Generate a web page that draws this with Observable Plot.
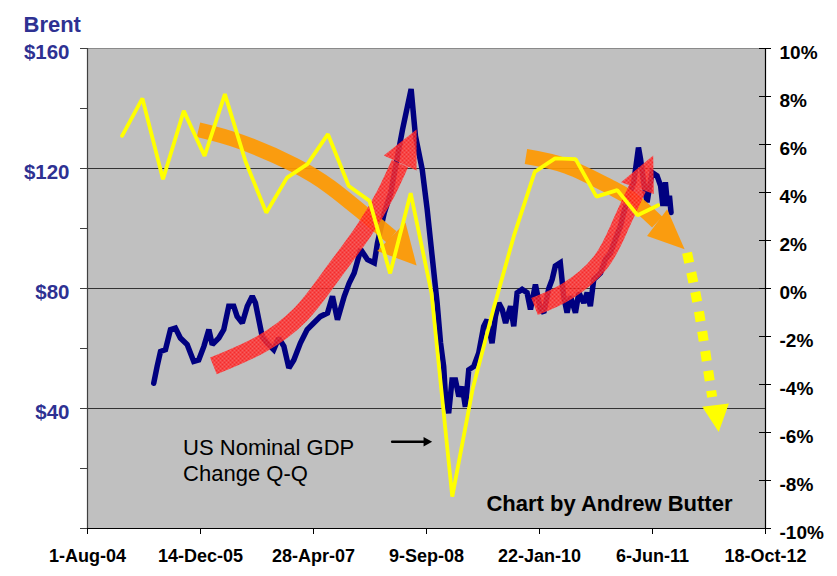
<!DOCTYPE html>
<html>
<head>
<meta charset="utf-8">
<script src="https://cdn.jsdelivr.net/npm/d3@7"></script>
<script src="https://cdn.jsdelivr.net/npm/@observablehq/plot@0.6"></script>
<style>
  body { margin: 0; background: #ffffff; }
  #chart svg { display: block; }
</style>
</head>
<body>
<div id="chart"></div>
<script>
// ---------- data ----------
// Brent crude, $ per barrel [date, price]
const brentSeries = [
  ["2005-05-21",48.4],["2005-06-05",54],["2005-06-20",59],["2005-07-12",59.6],["2005-08-03",66.3],["2005-08-25",66.8],
  ["2005-09-16",63.5],["2005-10-16",61.3],["2005-11-14",55.7],["2005-12-06",56.2],["2005-12-29",60.7],["2006-01-20",66.3],
  ["2006-02-04",61.3],["2006-03-05",63.5],["2006-03-27",66.3],["2006-04-18",74.1],["2006-05-10",74.1],["2006-05-25",70.7],
  ["2006-06-17",68.5],["2006-07-09",74.1],["2006-07-31",77.4],["2006-08-14",75.2],["2006-08-29",69.6],["2006-09-13",64.0],
  ["2006-10-05",61.8],["2006-11-03",59.6],["2006-11-25",63.5],["2006-12-18",60.7],["2007-01-09",53.5],["2007-01-31",56.2],
  ["2007-03-01",61.8],["2007-03-31",66.3],["2007-04-29",68.5],["2007-05-29",70.7],["2007-06-29",71.8],["2007-07-21",77.4],
  ["2007-08-12",69.6],["2007-09-11",77.4],["2007-10-03",81.8],["2007-10-25",85.2],["2007-11-23",93],["2007-12-23",89.6],
  ["2008-01-22",88.5],["2008-02-05",95.2],["2008-03-06",105.2],["2008-04-04",111.9],["2008-05-04",124.2],["2008-05-26",133],
  ["2008-07-03",146.5],["2008-07-22",130.9],["2008-08-21",119.7],["2008-09-12",106.4],["2008-10-04",90.7],["2008-10-26",75.2],
  ["2008-11-10",62],["2008-11-24",54],["2008-12-02",44],["2008-12-16",38.4],["2008-12-31",49.5],["2009-01-15",49.5],
  ["2009-01-30",44],["2009-02-14",47.3],["2009-02-28",40.6],["2009-03-15",52.9],["2009-04-06",54],["2009-04-28",58.5],
  ["2009-05-20",67.4],["2009-06-04",69.6],["2009-06-26",61.8],["2009-07-11",70.7],["2009-07-26",75.2],["2009-08-10",73],
  ["2009-08-25",68.5],["2009-09-16",74.1],["2009-09-30",67.4],["2009-10-15",78.6],["2009-11-06",79.7],["2009-11-28",78.6],
  ["2009-12-13",73],["2010-01-04",81.3],["2010-01-26",73],["2010-02-10",71.9],["2010-03-04",80],["2010-03-19",83],
  ["2010-04-02",87.5],["2010-04-24",88.6],["2010-05-09",77.4],["2010-05-24",71.9],["2010-06-08",77.4],["2010-06-30",71.9],
  ["2010-07-15",78.6],["2010-08-06",75.2],["2010-08-21",78.6],["2010-09-04",74.1],["2010-09-19",83],["2010-10-19",85.2],
  ["2010-11-10",89.7],["2010-12-02",91.9],["2010-12-24",96.4],["2011-01-15",100.8],["2011-01-30",105.3],["2011-02-21",110.9],
  ["2011-03-15",115.4],["2011-04-05",127],["2011-04-14",123.2],["2011-04-28",115.4],["2011-05-13",108.7],["2011-06-04",118.7],
  ["2011-06-26",117.6],["2011-07-12",114.2],["2011-07-22",107.5],["2011-08-02",115.4],["2011-08-12",107.5],["2011-08-20",110.9],
  ["2011-08-27",105.3]
];

// US nominal GDP change Q-Q (%), quarterly
const gdpDates = [
  "2005-01-01","2005-04-01","2005-07-01","2005-10-01","2006-01-01","2006-04-01","2006-07-01","2006-10-01",
  "2007-01-01","2007-04-01","2007-07-01","2007-10-01","2008-01-01","2008-04-01","2008-07-01","2008-10-01",
  "2009-01-01","2009-04-01","2009-07-01","2009-10-01","2010-01-01","2010-04-01","2010-07-01","2010-10-01",
  "2011-01-01","2011-04-01","2011-07-01"
];
const gdpChange = [
  6.36, 7.92, 4.55, 7.40, 5.52, 8.10, 5.30, 3.16,
  4.62, 5.18, 6.43, 4.27, 3.65, 0.63, 3.97, -0.18,
  -8.67, -4.2, -0.9, 2.2, 4.86, 5.42, 5.39, 3.83,
  4.10, 3.05, 3.47
];

// axes
const xTickDates = ["2004-08-01","2005-12-14","2007-04-28","2008-09-09","2010-01-22","2011-06-06","2012-10-18"];
const xTickLabels = ["1-Aug-04","14-Dec-05","28-Apr-07","9-Sep-08","22-Jan-10","6-Jun-11","18-Oct-12"];
const priceTicks = [0, 20, 40, 60, 80, 100, 120, 140, 160];
const priceLabelled = [40, 80, 120, 160];
const gridPrices = [40, 80, 120];
const pctTicks = [-10, -8, -6, -4, -2, 0, 2, 4, 6, 8, 10];

// annotations (date, Brent-scale value)
const orangeArrow1Body = [["2005-12-05",132.9],["2006-06-09",128.9],["2007-02-01",121.2],["2007-07-12",113.8],["2007-11-22",105.8],["2008-04-07",97.2]];
const orangeArrow1Head = [["2008-06-08",102.0],["2008-07-27",87.7],["2008-02-04",92.5]];
const redArrow1Body = [["2006-02-09",54.2],["2006-09-05",61.3],["2007-03-01",71.3],["2007-07-12",84.0],["2007-12-05",99.1],["2008-03-12",111.5],["2008-05-15",121.7]];
const redArrow1Head = [["2008-03-04",124.3],["2008-07-27",133.0],["2008-07-27",119.3]];
const orangeArrow2Body = [["2009-11-23",124.0],["2010-05-24",120.7],["2010-12-02",113.8],["2011-03-15",109.2],["2011-06-27",102.1]];
const orangeArrow2Head = [["2011-05-13",97.5],["2011-08-10",106.4],["2011-10-26",93.1]];
const redArrow2Body = [["2009-12-31",74.0],["2010-05-24",79.1],["2010-10-19",88.7],["2011-01-15",101.1],["2011-04-01",113.5]];
const redArrow2Head = [["2011-01-18",115.4],["2011-06-09",124.3],["2011-06-12",111.5]];
const yellowArrowBody = [["2011-11-06",91.9],["2011-12-13",78.6],["2012-01-12",65.7],["2012-02-25",43.8]];
const yellowArrowHead = [["2012-01-12",40.6],["2012-05-09",41.7],["2012-03-25",32.2]];
const pointerBody = [["2008-04-10",28.9],["2008-09-02",28.9]];
const pointerHead = [["2008-08-27",30.5],["2008-10-04",28.9],["2008-08-27",27.3]];
const gdpNote = {date: "2005-09-28", value: 30.5, text: "US Nominal GDP\nChange Q-Q"};
const creditNote = {date: "2009-06-01", value: 11.0, text: "Chart by Andrew Butter"};

// ---------- build ----------
const parse = d3.utcParse("%Y-%m-%d");
const toPrice = p => 80 + p * 8;            // right axis: 0% <-> $80, 10% <-> $160
const fromPrice = v => (v - 80) / 8;
const brent = brentSeries.map(([d, v]) => ({date: parse(d), price: v}));
const gdp = gdpDates.map((d, i) => ({date: parse(d), value: toPrice(gdpChange[i])}));
const pts = arr => arr.map(([d, v]) => ({date: parse(d), value: v}));
const xDomain = [parse(xTickDates[0]), parse(xTickDates[xTickDates.length - 1])];
const xLabelOf = new Map(xTickDates.map((d, i) => [+parse(d), xTickLabels[i]]));

const FONT = "'Liberation Sans', Arial, Helvetica, sans-serif";
const NAVY_TXT = "#2E3192";
const RED = "url(#hatch)";
const ORANGE = "#FF9900";
const YELLOW = "#FFFF00";

const chart = Plot.plot({
  width: 837,
  height: 576,
  marginLeft: 87,
  marginRight: 72,
  marginTop: 48,
  marginBottom: 48,
  style: {fontFamily: FONT, background: "#ffffff", overflow: "visible"},
  x: {type: "utc", domain: xDomain},
  y: {domain: [0, 160]},
  marks: [
    Plot.frame({fill: "#C0C0C0", stroke: null}),
    Plot.ruleY([160], {stroke: "#8a8a8a", strokeWidth: 1}),
    Plot.ruleY(gridPrices, {stroke: "#333333", strokeWidth: 1}),

    // Brent price
    Plot.line(brent, {x: "date", y: "price", stroke: "#000080", strokeWidth: 5.5, strokeLinejoin: "miter", strokeMiterlimit: 2}),

    // orange arrows
    Plot.line(pts(orangeArrow1Body), {x: "date", y: "value", stroke: ORANGE, strokeWidth: 15, curve: "natural", strokeOpacity: 0.92, strokeLinecap: "butt"}),
    Plot.line(pts(orangeArrow1Head), {x: "date", y: "value", fill: ORANGE, fillOpacity: 0.92, stroke: "none"}),
    Plot.line(pts(orangeArrow2Body), {x: "date", y: "value", stroke: ORANGE, strokeWidth: 15, curve: "natural", strokeOpacity: 0.92, strokeLinecap: "butt"}),
    Plot.line(pts(orangeArrow2Head), {x: "date", y: "value", fill: ORANGE, fillOpacity: 0.92, stroke: "none"}),

    // red hatched arrows
    Plot.line(pts(redArrow1Body), {x: "date", y: "value", stroke: RED, strokeWidth: 18, curve: "natural", strokeOpacity: 0.85, strokeLinecap: "butt"}),
    Plot.line(pts(redArrow1Head), {x: "date", y: "value", fill: RED, fillOpacity: 0.85, stroke: "none"}),
    Plot.line(pts(redArrow2Body), {x: "date", y: "value", stroke: RED, strokeWidth: 18, curve: "natural", strokeOpacity: 0.85, strokeLinecap: "butt"}),
    Plot.line(pts(redArrow2Head), {x: "date", y: "value", fill: RED, fillOpacity: 0.85, stroke: "none"}),

    // GDP line
    Plot.line(gdp, {x: "date", y: "value", stroke: YELLOW, strokeWidth: 3.8, strokeLinejoin: "miter"}),

    // dotted yellow projection arrow
    Plot.line(pts(yellowArrowBody), {x: "date", y: "value", stroke: YELLOW, strokeWidth: 10, strokeDasharray: "10,10", curve: "natural", strokeLinecap: "butt"}),
    Plot.line(pts(yellowArrowHead), {x: "date", y: "value", fill: YELLOW, stroke: "none"}),

    // pointer arrow to GDP line
    Plot.line(pts(pointerBody), {x: "date", y: "value", stroke: "#000", strokeWidth: 2.5}),
    Plot.line(pts(pointerHead), {x: "date", y: "value", fill: "#000", stroke: "none"}),

    // axis lines
    Plot.ruleY([0], {stroke: "#000", strokeWidth: 1.2}),
    Plot.ruleX([xDomain[0]], {stroke: "#404040", strokeWidth: 1.2}),
    Plot.ruleX([xDomain[1]], {stroke: "#000", strokeWidth: 1.2}),

    // x axis
    Plot.axisX({ticks: xTickDates.map(parse), tickSize: 6, tickPadding: 15, tickFormat: d => xLabelOf.get(+d),
      fontSize: 18, fontWeight: "bold", fill: "#000", stroke: "#000", label: null}),

    // left axis (Brent $)
    Plot.axisY({anchor: "left", ticks: priceTicks, tickSize: 7, stroke: "#404040", fill: "none", label: null}),
    Plot.axisY({anchor: "left", ticks: priceLabelled, tickSize: 0, tickPadding: 18, dy: 4,
      tickFormat: d => `$${d}`, fontSize: 20.5, fontWeight: "bold", fill: NAVY_TXT, label: null}),

    // right axis (GDP %)
    Plot.axisY({anchor: "right", ticks: pctTicks.map(toPrice), tickSize: 12, dx: -7, stroke: "#000", fill: "none", label: null}),
    Plot.axisY({anchor: "right", ticks: pctTicks.map(toPrice), tickSize: 0, tickPadding: 14, dy: 4,
      tickFormat: v => `${Math.round(fromPrice(v))}%`, fontSize: 19, fontWeight: "bold", fill: "#000", label: null}),

    // titles / notes
    Plot.text(["Brent"], {frameAnchor: "top-left", dx: -64, dy: -32, textAnchor: "start", lineAnchor: "top",
      fontSize: 22, fontWeight: "bold", fill: NAVY_TXT}),
    Plot.text([gdpNote], {x: d => parse(d.date), y: "value", text: "text", textAnchor: "start", lineAnchor: "top",
      fontSize: 22, lineHeight: 1.18, fill: "#000"}),
    Plot.text([creditNote], {x: d => parse(d.date), y: "value", text: "text", textAnchor: "start", lineAnchor: "top",
      fontSize: 22, fontWeight: "bold", fill: "#000"})
  ]
});

// crosshatch pattern for the red arrows
const defs = d3.select(chart).insert("defs", ":first-child");
const pat = defs.append("pattern").attr("id", "hatch").attr("patternUnits", "userSpaceOnUse")
  .attr("width", 4).attr("height", 4);
pat.append("rect").attr("width", 4).attr("height", 4).attr("fill", "#FF1010");
pat.append("path").attr("d", "M0,0 L4,4 M4,0 L0,4").attr("stroke", "#FF6A6A").attr("stroke-width", 0.7);

document.getElementById("chart").appendChild(chart);
</script>
</body>
</html>
